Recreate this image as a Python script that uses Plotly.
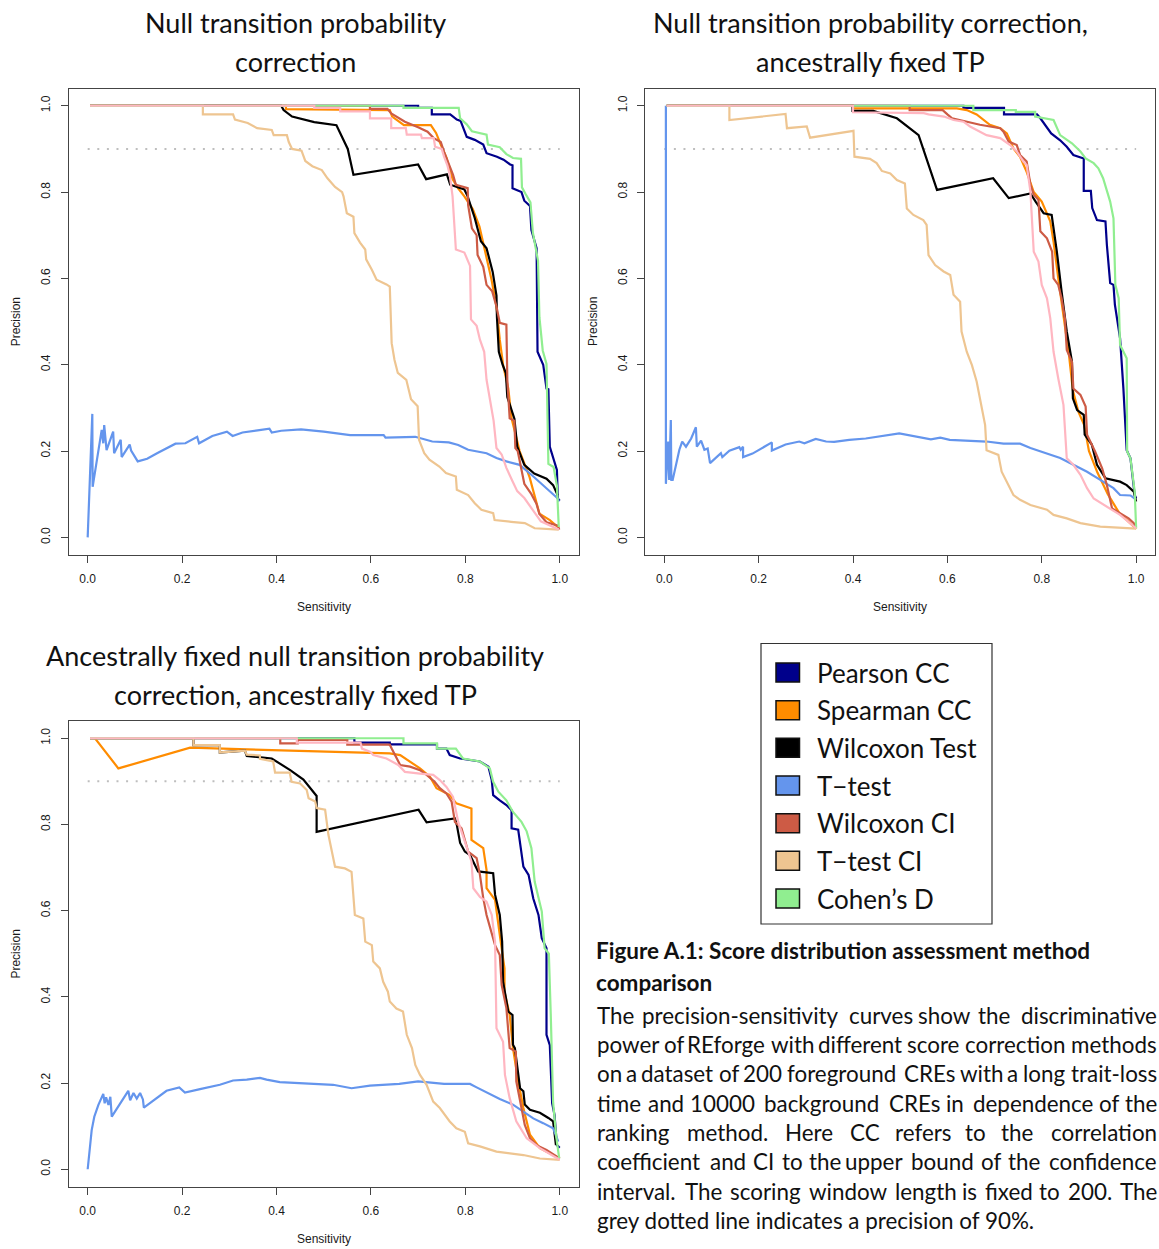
import plotly.graph_objects as go

# ---------------------------------------------------------------------------
# Shared axis values
# ---------------------------------------------------------------------------
tick_values = [0.0, 0.2, 0.4, 0.6, 0.8, 1.0]
tick_labels = ["0.0", "0.2", "0.4", "0.6", "0.8", "1.0"]
precision_level = [0.9, 0.9]
precision_level_sens = [0.0, 1.0]

method_names = ["Pearson CC", "Spearman CC", "Wilcoxon Test", "T\u2212test",
                "Wilcoxon CI", "T\u2212test CI", "Cohen\u2019s D"]

# ---------------------------------------------------------------------------
# Panel A: null transition probability correction
# ---------------------------------------------------------------------------
a_pearson_x = [0.005, 0.700, 0.700, 0.729, 0.729, 0.768, 0.782, 0.790, 0.803, 0.820, 0.838, 0.845, 0.867, 0.881, 0.895, 0.900, 0.900, 0.919, 0.925, 0.937, 0.940, 0.951, 0.953, 0.965, 0.972, 0.976, 0.979, 0.994, 0.996, 1.0]
a_pearson_y = [1.0, 1.0, 0.995, 0.995, 0.980, 0.980, 0.968, 0.965, 0.928, 0.921, 0.910, 0.890, 0.882, 0.875, 0.864, 0.862, 0.809, 0.800, 0.780, 0.768, 0.712, 0.670, 0.430, 0.400, 0.345, 0.343, 0.210, 0.156, 0.090, 0.085]

a_spearman_x = [0.005, 0.420, 0.420, 0.640, 0.645, 0.670, 0.727, 0.738, 0.750, 0.760, 0.773, 0.784, 0.798, 0.816, 0.830, 0.845, 0.855, 0.866, 0.873, 0.880, 0.891, 0.898, 0.915, 0.936, 0.957, 0.979, 0.998]
a_spearman_y = [1.0, 1.0, 0.992, 0.990, 0.975, 0.955, 0.955, 0.937, 0.905, 0.880, 0.830, 0.810, 0.790, 0.760, 0.720, 0.650, 0.600, 0.535, 0.458, 0.400, 0.345, 0.276, 0.200, 0.140, 0.055, 0.040, 0.022]

a_wilcox_x = [0.005, 0.410, 0.415, 0.433, 0.480, 0.527, 0.551, 0.563, 0.700, 0.717, 0.761, 0.768, 0.798, 0.805, 0.820, 0.833, 0.845, 0.858, 0.866, 0.867, 0.871, 0.879, 0.886, 0.889, 0.904, 0.910, 0.925, 0.946, 0.972, 0.986, 0.996]
a_wilcox_y = [1.0, 1.0, 0.990, 0.975, 0.962, 0.955, 0.900, 0.840, 0.864, 0.830, 0.841, 0.817, 0.806, 0.790, 0.740, 0.686, 0.670, 0.615, 0.560, 0.510, 0.430, 0.400, 0.380, 0.325, 0.275, 0.210, 0.168, 0.148, 0.136, 0.121, 0.097]

a_ttest_x = [0.0, 0.0098, 0.0105, 0.0191, 0.0297, 0.033, 0.035, 0.040, 0.054, 0.056, 0.070, 0.072, 0.089, 0.092, 0.106, 0.126, 0.147, 0.186, 0.207, 0.232, 0.236, 0.264, 0.295, 0.307, 0.328, 0.360, 0.385, 0.390, 0.410, 0.452, 0.500, 0.556, 0.627, 0.631, 0.694, 0.730, 0.765, 0.785, 0.806, 0.845, 0.866, 0.887, 0.915, 0.940, 0.960, 0.980, 0.996, 0.998]
a_ttest_y = [0.0, 0.286, 0.117, 0.179, 0.249, 0.218, 0.260, 0.202, 0.245, 0.195, 0.226, 0.186, 0.215, 0.201, 0.176, 0.182, 0.195, 0.217, 0.218, 0.233, 0.218, 0.235, 0.245, 0.235, 0.243, 0.248, 0.252, 0.243, 0.247, 0.250, 0.245, 0.237, 0.237, 0.231, 0.233, 0.222, 0.220, 0.214, 0.203, 0.195, 0.184, 0.176, 0.168, 0.145, 0.126, 0.106, 0.090, 0.083]

a_wilcox_ci_x = [0.005, 0.598, 0.598, 0.635, 0.643, 0.660, 0.672, 0.700, 0.720, 0.733, 0.748, 0.755, 0.767, 0.774, 0.780, 0.805, 0.806, 0.814, 0.824, 0.826, 0.838, 0.845, 0.857, 0.866, 0.873, 0.887, 0.889, 0.894, 0.904, 0.906, 0.911, 0.920, 0.925, 0.940, 0.951, 0.957, 0.972, 0.996, 0.999]
a_wilcox_ci_y = [1.0, 1.0, 0.993, 0.993, 0.982, 0.971, 0.963, 0.950, 0.940, 0.925, 0.916, 0.893, 0.862, 0.840, 0.817, 0.809, 0.770, 0.716, 0.700, 0.654, 0.627, 0.585, 0.570, 0.535, 0.497, 0.493, 0.365, 0.276, 0.270, 0.207, 0.200, 0.153, 0.124, 0.100, 0.077, 0.054, 0.035, 0.027, 0.018]

a_ttest_ci_x = [0.005, 0.244, 0.244, 0.308, 0.312, 0.339, 0.359, 0.390, 0.394, 0.422, 0.426, 0.433, 0.453, 0.461, 0.476, 0.496, 0.508, 0.524, 0.539, 0.542, 0.549, 0.563, 0.565, 0.577, 0.588, 0.590, 0.602, 0.612, 0.633, 0.640, 0.644, 0.650, 0.657, 0.675, 0.685, 0.699, 0.702, 0.713, 0.724, 0.745, 0.759, 0.780, 0.782, 0.806, 0.820, 0.834, 0.859, 0.862, 0.897, 0.926, 0.947, 0.998]
a_ttest_ci_y = [1.0, 1.0, 0.980, 0.980, 0.968, 0.960, 0.948, 0.944, 0.932, 0.932, 0.916, 0.900, 0.896, 0.872, 0.860, 0.851, 0.832, 0.812, 0.800, 0.790, 0.751, 0.743, 0.705, 0.683, 0.667, 0.644, 0.620, 0.597, 0.586, 0.581, 0.450, 0.411, 0.381, 0.365, 0.320, 0.304, 0.226, 0.195, 0.180, 0.164, 0.149, 0.141, 0.110, 0.098, 0.079, 0.064, 0.056, 0.040, 0.036, 0.033, 0.021, 0.018]

a_cohen_x = [0.005, 0.669, 0.669, 0.786, 0.789, 0.803, 0.814, 0.845, 0.848, 0.873, 0.887, 0.901, 0.918, 0.920, 0.928, 0.938, 0.943, 0.950, 0.954, 0.957, 0.964, 0.972, 0.976, 0.987, 0.994, 0.998]
a_cohen_y = [1.0, 1.0, 0.995, 0.995, 0.971, 0.957, 0.941, 0.933, 0.910, 0.904, 0.888, 0.879, 0.877, 0.811, 0.795, 0.776, 0.707, 0.664, 0.641, 0.510, 0.433, 0.402, 0.170, 0.163, 0.120, 0.024]

a_pink_x = [0.005, 0.480, 0.480, 0.535, 0.535, 0.598, 0.598, 0.643, 0.643, 0.674, 0.676, 0.706, 0.708, 0.733, 0.736, 0.750, 0.755, 0.762, 0.767, 0.773, 0.780, 0.798, 0.810, 0.812, 0.824, 0.831, 0.840, 0.845, 0.860, 0.866, 0.877, 0.887, 0.900, 0.910, 0.925, 0.946, 0.960, 0.998]
a_pink_y = [1.0, 1.0, 0.995, 0.995, 0.987, 0.987, 0.971, 0.971, 0.948, 0.948, 0.933, 0.933, 0.925, 0.925, 0.905, 0.900, 0.882, 0.862, 0.840, 0.790, 0.667, 0.660, 0.629, 0.505, 0.490, 0.458, 0.430, 0.365, 0.270, 0.207, 0.192, 0.161, 0.130, 0.107, 0.091, 0.060, 0.037, 0.018]

# ---------------------------------------------------------------------------
# Panel B: null transition probability correction, ancestrally fixed TP
# ---------------------------------------------------------------------------
b_pearson_x = [0.005, 0.634, 0.634, 0.720, 0.720, 0.790, 0.797, 0.807, 0.820, 0.839, 0.853, 0.867, 0.889, 0.889, 0.904, 0.907, 0.917, 0.935, 0.938, 0.945, 0.952, 0.955, 0.966, 0.973, 0.980, 0.988, 0.997, 1.0]
b_pearson_y = [1.0, 1.0, 0.995, 0.995, 0.980, 0.980, 0.971, 0.956, 0.936, 0.920, 0.905, 0.886, 0.878, 0.803, 0.803, 0.763, 0.735, 0.732, 0.678, 0.589, 0.585, 0.539, 0.461, 0.345, 0.202, 0.183, 0.098, 0.090]

b_spearman_x = [0.005, 0.400, 0.400, 0.620, 0.641, 0.662, 0.690, 0.712, 0.726, 0.740, 0.754, 0.768, 0.783, 0.800, 0.818, 0.825, 0.835, 0.842, 0.849, 0.858, 0.866, 0.878, 0.890, 0.900, 0.918, 0.940, 0.965, 0.990, 1.0]
b_spearman_y = [1.0, 1.0, 0.994, 0.994, 0.990, 0.980, 0.956, 0.948, 0.936, 0.901, 0.882, 0.847, 0.800, 0.778, 0.732, 0.685, 0.600, 0.546, 0.492, 0.420, 0.340, 0.290, 0.260, 0.200, 0.150, 0.100, 0.055, 0.030, 0.020]

b_wilcox_x = [0.005, 0.399, 0.399, 0.443, 0.493, 0.539, 0.578, 0.697, 0.730, 0.776, 0.787, 0.804, 0.821, 0.832, 0.842, 0.853, 0.864, 0.866, 0.875, 0.889, 0.891, 0.906, 0.917, 0.935, 0.966, 0.980, 0.995, 1.0]
b_wilcox_y = [1.0, 1.0, 0.988, 0.988, 0.971, 0.932, 0.805, 0.832, 0.786, 0.797, 0.778, 0.751, 0.747, 0.662, 0.570, 0.477, 0.407, 0.322, 0.295, 0.284, 0.238, 0.215, 0.168, 0.137, 0.129, 0.121, 0.106, 0.083]

b_ttest_x = [0.0034, 0.0034, 0.0083, 0.0104, 0.0139, 0.015, 0.0178, 0.025, 0.032, 0.038, 0.046, 0.057, 0.067, 0.069, 0.078, 0.085, 0.092, 0.097, 0.120, 0.123, 0.138, 0.159, 0.162, 0.167, 0.167, 0.187, 0.228, 0.228, 0.257, 0.286, 0.297, 0.321, 0.343, 0.360, 0.392, 0.427, 0.470, 0.498, 0.565, 0.585, 0.605, 0.663, 0.683, 0.719, 0.754, 0.776, 0.811, 0.839, 0.867, 0.896, 0.924, 0.952, 0.966, 0.988, 0.997]
b_ttest_y = [1.0, 0.124, 0.222, 0.133, 0.272, 0.133, 0.133, 0.172, 0.203, 0.222, 0.210, 0.229, 0.255, 0.210, 0.224, 0.203, 0.206, 0.172, 0.195, 0.186, 0.201, 0.209, 0.203, 0.210, 0.186, 0.194, 0.220, 0.201, 0.215, 0.222, 0.218, 0.228, 0.222, 0.221, 0.226, 0.229, 0.237, 0.241, 0.227, 0.231, 0.226, 0.224, 0.222, 0.217, 0.217, 0.207, 0.195, 0.184, 0.168, 0.152, 0.133, 0.114, 0.098, 0.097, 0.090]

b_wilcox_ci_x = [0.005, 0.520, 0.520, 0.590, 0.600, 0.610, 0.669, 0.712, 0.719, 0.730, 0.747, 0.754, 0.768, 0.776, 0.783, 0.793, 0.797, 0.811, 0.822, 0.825, 0.835, 0.842, 0.849, 0.853, 0.864, 0.867, 0.882, 0.893, 0.896, 0.906, 0.913, 0.928, 0.938, 0.949, 0.966, 0.984, 0.995, 1.0]
b_wilcox_ci_y = [1.0, 1.0, 0.990, 0.990, 0.980, 0.971, 0.956, 0.948, 0.940, 0.917, 0.909, 0.886, 0.871, 0.817, 0.794, 0.782, 0.709, 0.693, 0.662, 0.600, 0.585, 0.554, 0.508, 0.434, 0.407, 0.345, 0.330, 0.303, 0.238, 0.215, 0.199, 0.160, 0.121, 0.067, 0.056, 0.044, 0.033, 0.021]

b_ttest_ci_x = [0.005, 0.138, 0.138, 0.257, 0.260, 0.302, 0.309, 0.401, 0.403, 0.436, 0.450, 0.461, 0.479, 0.493, 0.510, 0.514, 0.528, 0.549, 0.556, 0.560, 0.574, 0.592, 0.606, 0.613, 0.627, 0.630, 0.641, 0.652, 0.662, 0.673, 0.680, 0.683, 0.708, 0.715, 0.726, 0.740, 0.754, 0.776, 0.811, 0.825, 0.853, 0.882, 0.924, 1.0]
b_ttest_ci_y = [1.0, 1.0, 0.967, 0.981, 0.948, 0.952, 0.926, 0.942, 0.882, 0.877, 0.867, 0.849, 0.843, 0.828, 0.820, 0.762, 0.747, 0.735, 0.724, 0.654, 0.631, 0.616, 0.608, 0.562, 0.546, 0.477, 0.430, 0.399, 0.361, 0.299, 0.260, 0.202, 0.191, 0.152, 0.129, 0.098, 0.087, 0.075, 0.064, 0.052, 0.044, 0.033, 0.025, 0.020]

b_cohen_x = [0.005, 0.655, 0.655, 0.745, 0.745, 0.786, 0.786, 0.825, 0.839, 0.864, 0.882, 0.893, 0.910, 0.920, 0.930, 0.945, 0.952, 0.956, 0.963, 0.966, 0.980, 0.981, 0.988, 0.997, 1.0]
b_cohen_y = [1.0, 1.0, 0.990, 0.990, 0.986, 0.986, 0.975, 0.967, 0.932, 0.913, 0.894, 0.878, 0.867, 0.855, 0.832, 0.778, 0.739, 0.585, 0.554, 0.446, 0.415, 0.199, 0.183, 0.106, 0.021]

b_pink_x = [0.005, 0.400, 0.400, 0.550, 0.560, 0.593, 0.613, 0.634, 0.648, 0.683, 0.712, 0.733, 0.747, 0.761, 0.768, 0.776, 0.783, 0.793, 0.800, 0.811, 0.818, 0.825, 0.835, 0.846, 0.853, 0.867, 0.882, 0.896, 0.910, 0.931, 0.966, 1.0]
b_pink_y = [1.0, 1.0, 0.985, 0.983, 0.980, 0.975, 0.967, 0.963, 0.952, 0.932, 0.925, 0.909, 0.894, 0.871, 0.863, 0.801, 0.662, 0.639, 0.585, 0.554, 0.508, 0.430, 0.368, 0.307, 0.183, 0.168, 0.145, 0.114, 0.090, 0.075, 0.052, 0.021]

# ---------------------------------------------------------------------------
# Panel C: ancestrally fixed null TP correction, ancestrally fixed TP
# ---------------------------------------------------------------------------
c_pearson_x = [0.005, 0.565, 0.565, 0.640, 0.640, 0.740, 0.740, 0.760, 0.767, 0.789, 0.831, 0.849, 0.856, 0.859, 0.873, 0.887, 0.898, 0.898, 0.912, 0.916, 0.923, 0.934, 0.944, 0.955, 0.962, 0.972, 0.972, 0.979, 0.984, 0.989, 0.994, 1.0]
c_pearson_y = [1.0, 1.0, 0.990, 0.990, 0.986, 0.986, 0.976, 0.976, 0.961, 0.953, 0.946, 0.934, 0.903, 0.868, 0.856, 0.845, 0.833, 0.791, 0.788, 0.760, 0.702, 0.683, 0.628, 0.590, 0.536, 0.513, 0.312, 0.288, 0.153, 0.126, 0.056, 0.050]

c_spearman_x = [0.005, 0.0155, 0.065, 0.217, 0.563, 0.640, 0.662, 0.683, 0.704, 0.725, 0.739, 0.767, 0.781, 0.813, 0.813, 0.838, 0.845, 0.845, 0.863, 0.873, 0.883, 0.883, 0.894, 0.901, 0.912, 0.923, 0.937, 0.958, 1.0]
c_spearman_y = [1.0, 1.0, 0.930, 0.978, 0.967, 0.965, 0.961, 0.946, 0.930, 0.911, 0.884, 0.868, 0.849, 0.837, 0.764, 0.745, 0.694, 0.652, 0.625, 0.544, 0.466, 0.412, 0.358, 0.281, 0.204, 0.142, 0.080, 0.049, 0.025]

c_wilcox_x = [0.005, 0.224, 0.224, 0.280, 0.280, 0.333, 0.337, 0.358, 0.390, 0.429, 0.457, 0.485, 0.485, 0.701, 0.718, 0.778, 0.782, 0.789, 0.799, 0.810, 0.827, 0.859, 0.863, 0.873, 0.878, 0.880, 0.891, 0.900, 0.901, 0.905, 0.916, 0.923, 0.926, 0.937, 0.958, 0.976, 0.986, 0.992]
c_wilcox_y = [1.0, 1.0, 0.984, 0.984, 0.967, 0.971, 0.959, 0.957, 0.953, 0.926, 0.904, 0.866, 0.783, 0.834, 0.805, 0.814, 0.799, 0.757, 0.737, 0.729, 0.691, 0.687, 0.637, 0.590, 0.528, 0.435, 0.366, 0.358, 0.289, 0.281, 0.188, 0.181, 0.150, 0.138, 0.131, 0.119, 0.111, 0.056]

c_ttest_x = [0.0, 0.0085, 0.014, 0.0225, 0.033, 0.036, 0.039, 0.044, 0.048, 0.051, 0.086, 0.090, 0.097, 0.104, 0.111, 0.117, 0.119, 0.153, 0.167, 0.194, 0.206, 0.238, 0.280, 0.308, 0.337, 0.365, 0.379, 0.407, 0.450, 0.520, 0.559, 0.598, 0.660, 0.700, 0.755, 0.810, 0.824, 0.845, 0.873, 0.901, 0.923, 0.944, 0.965, 0.986, 0.997]
c_ttest_y = [0.0, 0.091, 0.122, 0.149, 0.175, 0.153, 0.167, 0.149, 0.168, 0.122, 0.182, 0.160, 0.177, 0.164, 0.177, 0.162, 0.143, 0.172, 0.182, 0.190, 0.178, 0.186, 0.196, 0.206, 0.208, 0.212, 0.208, 0.202, 0.200, 0.196, 0.188, 0.194, 0.198, 0.204, 0.198, 0.198, 0.190, 0.178, 0.163, 0.150, 0.134, 0.118, 0.107, 0.095, 0.064]

c_wilcox_ci_x = [0.005, 0.408, 0.408, 0.445, 0.445, 0.550, 0.550, 0.640, 0.644, 0.654, 0.662, 0.683, 0.704, 0.718, 0.735, 0.746, 0.760, 0.771, 0.778, 0.792, 0.806, 0.824, 0.831, 0.838, 0.845, 0.863, 0.873, 0.877, 0.887, 0.894, 0.907, 0.908, 0.916, 0.926, 0.937, 0.951, 0.972, 1.0]
c_wilcox_ci_y = [1.0, 1.0, 0.988, 0.988, 0.996, 0.996, 0.985, 0.985, 0.976, 0.953, 0.938, 0.934, 0.926, 0.915, 0.899, 0.884, 0.872, 0.853, 0.806, 0.791, 0.737, 0.722, 0.683, 0.629, 0.590, 0.520, 0.497, 0.428, 0.374, 0.281, 0.273, 0.204, 0.157, 0.103, 0.072, 0.056, 0.045, 0.025]

c_ttest_ci_x = [0.005, 0.224, 0.224, 0.280, 0.280, 0.333, 0.337, 0.365, 0.365, 0.393, 0.397, 0.428, 0.432, 0.450, 0.464, 0.468, 0.482, 0.485, 0.503, 0.506, 0.510, 0.524, 0.545, 0.559, 0.562, 0.566, 0.584, 0.588, 0.602, 0.605, 0.619, 0.626, 0.636, 0.640, 0.654, 0.668, 0.676, 0.687, 0.694, 0.704, 0.718, 0.732, 0.746, 0.767, 0.781, 0.799, 0.806, 0.831, 0.866, 0.923, 0.958, 1.0]
c_ttest_ci_y = [1.0, 1.0, 0.984, 0.984, 0.967, 0.971, 0.962, 0.960, 0.952, 0.946, 0.920, 0.920, 0.899, 0.895, 0.880, 0.861, 0.853, 0.838, 0.834, 0.803, 0.776, 0.702, 0.698, 0.690, 0.640, 0.590, 0.582, 0.528, 0.520, 0.482, 0.466, 0.435, 0.412, 0.389, 0.373, 0.366, 0.312, 0.281, 0.242, 0.219, 0.196, 0.157, 0.142, 0.111, 0.095, 0.087, 0.060, 0.053, 0.041, 0.033, 0.025, 0.022]

c_cohen_x = [0.005, 0.669, 0.669, 0.740, 0.740, 0.780, 0.795, 0.831, 0.852, 0.859, 0.870, 0.887, 0.901, 0.919, 0.930, 0.940, 0.947, 0.955, 0.962, 0.968, 0.977, 0.981, 0.986, 0.993, 0.999]
c_cohen_y = [1.0, 1.0, 0.988, 0.988, 0.976, 0.976, 0.953, 0.946, 0.930, 0.899, 0.876, 0.856, 0.829, 0.806, 0.784, 0.745, 0.667, 0.628, 0.598, 0.513, 0.500, 0.360, 0.155, 0.072, 0.025]

c_pink_x = [0.005, 0.443, 0.443, 0.578, 0.581, 0.598, 0.605, 0.633, 0.658, 0.672, 0.704, 0.732, 0.746, 0.760, 0.774, 0.785, 0.799, 0.813, 0.817, 0.831, 0.845, 0.856, 0.863, 0.866, 0.880, 0.884, 0.894, 0.908, 0.930, 0.958, 1.0]
c_pink_y = [1.0, 1.0, 0.990, 0.990, 0.976, 0.969, 0.961, 0.953, 0.938, 0.922, 0.918, 0.915, 0.903, 0.887, 0.864, 0.806, 0.760, 0.714, 0.652, 0.632, 0.621, 0.590, 0.528, 0.327, 0.296, 0.219, 0.165, 0.111, 0.072, 0.049, 0.022]

# ---------------------------------------------------------------------------
# Styling
# ---------------------------------------------------------------------------
W, H = 1159, 1249
C_PEARSON = "#00008B"
C_SPEARMAN = "#FF8C00"
C_WILCOX = "#000000"
C_TTEST = "#6495ED"
C_WILCOX_CI = "#CD5B45"
C_TTEST_CI = "#EEC591"
C_COHEN = "#90EE90"
C_PINK = "#FFB6C1"
legend_colors = [C_PEARSON, C_SPEARMAN, C_WILCOX, C_TTEST, C_WILCOX_CI, C_TTEST_CI, C_COHEN]

TEXT_FONT = "Lato"
AXIS_FONT = "Liberation Sans, Arial, sans-serif"


def px(x):
    return x / W


def py(y):
    return 1 - y / H


panels = [
    dict(xa="x", ya="y", box=(68.8, 88.5, 578.6, 554.6),
         series=[(method_names[0], C_PEARSON, a_pearson_x, a_pearson_y),
                 (method_names[1], C_SPEARMAN, a_spearman_x, a_spearman_y),
                 (method_names[2], C_WILCOX, a_wilcox_x, a_wilcox_y),
                 (method_names[3], C_TTEST, a_ttest_x, a_ttest_y),
                 (method_names[4], C_WILCOX_CI, a_wilcox_ci_x, a_wilcox_ci_y),
                 (method_names[5], C_TTEST_CI, a_ttest_ci_x, a_ttest_ci_y),
                 (method_names[6], C_COHEN, a_cohen_x, a_cohen_y),
                 ("Unlabelled curve", C_PINK, a_pink_x, a_pink_y)],
         title=["Null transition probability", "correction"], title_x=295, title_y=(23, 62)),
    dict(xa="x2", ya="y2", box=(645.4, 88.5, 1155.0, 554.6),
         series=[(method_names[0], C_PEARSON, b_pearson_x, b_pearson_y),
                 (method_names[1], C_SPEARMAN, b_spearman_x, b_spearman_y),
                 (method_names[2], C_WILCOX, b_wilcox_x, b_wilcox_y),
                 (method_names[3], C_TTEST, b_ttest_x, b_ttest_y),
                 (method_names[4], C_WILCOX_CI, b_wilcox_ci_x, b_wilcox_ci_y),
                 (method_names[5], C_TTEST_CI, b_ttest_ci_x, b_ttest_ci_y),
                 (method_names[6], C_COHEN, b_cohen_x, b_cohen_y),
                 ("Unlabelled curve", C_PINK, b_pink_x, b_pink_y)],
         title=["Null transition probability correction,", "ancestrally fixed TP"], title_x=870, title_y=(23, 62)),
    dict(xa="x3", ya="y3", box=(68.8, 721.0, 578.6, 1186.5),
         series=[(method_names[0], C_PEARSON, c_pearson_x, c_pearson_y),
                 (method_names[1], C_SPEARMAN, c_spearman_x, c_spearman_y),
                 (method_names[2], C_WILCOX, c_wilcox_x, c_wilcox_y),
                 (method_names[3], C_TTEST, c_ttest_x, c_ttest_y),
                 (method_names[4], C_WILCOX_CI, c_wilcox_ci_x, c_wilcox_ci_y),
                 (method_names[5], C_TTEST_CI, c_ttest_ci_x, c_ttest_ci_y),
                 (method_names[6], C_COHEN, c_cohen_x, c_cohen_y),
                 ("Unlabelled curve", C_PINK, c_pink_x, c_pink_y)],
         title=["Ancestrally fixed null transition probability", "correction, ancestrally fixed TP"],
         title_x=295, title_y=(655, 694)),
]

fig = go.Figure()
annotations = []
shapes = []
layout_axes = {}

for i, p in enumerate(panels):
    # grey dotted reference line at 90% precision
    fig.add_trace(go.Scatter(x=precision_level_sens, y=precision_level, mode="lines",
                             line=dict(color="#BEBEBE", width=2, dash="2px,7.6px"),
                             xaxis=p["xa"], yaxis=p["ya"], showlegend=False, hoverinfo="skip"))
    for name, color, xs, ys in p["series"]:
        fig.add_trace(go.Scatter(x=xs, y=ys, mode="lines", name=name,
                                 line=dict(color=color, width=2.2),
                                 xaxis=p["xa"], yaxis=p["ya"], showlegend=False))

    x0, y0, x1, y1 = p["box"]
    suffix = "" if i == 0 else str(i + 1)
    common = dict(showgrid=False, zeroline=False, showline=True, mirror=True,
                  linecolor="#444", linewidth=1.2, ticks="outside", ticklen=7,
                  tickwidth=1, tickcolor="#444", tickvals=tick_values, ticktext=tick_labels,
                  tickfont=dict(family=AXIS_FONT, size=12, color="#1a1a1a"),
                  range=[-0.04, 1.04], fixedrange=True)
    layout_axes["xaxis" + suffix] = dict(common, domain=[px(x0), px(x1)],
                                         anchor="y" + suffix, ticklabelstandoff=6)
    layout_axes["yaxis" + suffix] = dict(common, domain=[py(y1), py(y0)],
                                         anchor="x" + suffix, tickangle=-90, ticklabelstandoff=6)

    # panel title
    for line, ty in zip(p["title"], p["title_y"]):
        annotations.append(dict(text=line, x=px(p["title_x"]), y=py(ty), xref="paper", yref="paper",
                                xanchor="center", yanchor="middle", showarrow=False,
                                font=dict(family=TEXT_FONT, size=27, color="#111")))
    # axis titles
    annotations.append(dict(text="Precision", x=px(x0 - 53), y=py((y0 + y1) / 2), xref="paper",
                            yref="paper", textangle=-90, showarrow=False, xanchor="center",
                            yanchor="middle", font=dict(family=AXIS_FONT, size=12, color="#1a1a1a")))
    annotations.append(dict(text="Sensitivity", x=px((x0 + x1) / 2), y=py(y1 + 52.5), xref="paper",
                            yref="paper", showarrow=False, xanchor="center", yanchor="middle",
                            font=dict(family=AXIS_FONT, size=12, color="#1a1a1a")))

# ---------------------------------------------------------------------------
# Legend box
# ---------------------------------------------------------------------------
shapes.append(dict(type="rect", xref="paper", yref="paper", x0=px(761), x1=px(992),
                   y0=py(924), y1=py(643.5), line=dict(color="#333", width=1.2),
                   fillcolor="rgba(0,0,0,0)"))
for k, (label, color) in enumerate(zip(method_names, legend_colors)):
    cy = 672.5 + k * 37.67
    shapes.append(dict(type="rect", xref="paper", yref="paper", x0=px(776), x1=px(799.5),
                       y0=py(cy + 9.5), y1=py(cy - 9.5), fillcolor=color,
                       line=dict(color="#111", width=1.5)))
    annotations.append(dict(text=label, x=px(815), y=py(cy), xref="paper", yref="paper",
                            xanchor="left", yanchor="middle", showarrow=False,
                            font=dict(family=TEXT_FONT, size=26, color="#111")))

# ---------------------------------------------------------------------------
# Caption
# ---------------------------------------------------------------------------
caption_title = ["Figure A.1: Score distribution assessment method", "comparison"]
caption_body = [
    "The precision-sensitivity curves show the discriminative",
    "power of REforge with different score correction methods",
    "on a dataset of 200 foreground CREs with a long trait-loss",
    "time and 10000 background CREs in dependence of the",
    "ranking method. Here CC refers to the correlation",
    "coefficient and CI to the upper bound of the confidence",
    "interval. The scoring window length is fixed to 200. The",
    "grey dotted line indicates a precision of 90%.",
]

for line, ty in zip(caption_title, (950.7, 982.5)):
    annotations.append(dict(text="<b>" + line + "</b>", x=px(594), y=py(ty), xref="paper",
                            yref="paper", xanchor="left", yanchor="middle", showarrow=False,
                            font=dict(family=TEXT_FONT, size=22.5, color="#111")))

# approximate advance widths (em) used to spread words for a justified block
GLYPH_EM = {
    "a": .49, "b": .55, "c": .46, "d": .55, "e": .51, "f": .32, "g": .50, "h": .55,
    "i": .24, "j": .24, "k": .50, "l": .24, "m": .83, "n": .55, "o": .55, "p": .54,
    "q": .55, "r": .36, "s": .42, "t": .34, "u": .55, "v": .50, "w": .76, "x": .49,
    "y": .50, "z": .45, "A": .68, "B": .65, "C": .68, "D": .75, "E": .58, "F": .56,
    "G": .73, "H": .76, "I": .29, "L": .50, "R": .64, "S": .55, "T": .60,
    ".": .22, ",": .22, "-": .35, "%": .80, ":": .22,
}
GLYPH_SCALE = 1.06
BODY_SIZE = 22.4


def word_width(word):
    return sum(GLYPH_EM.get(ch, .58) for ch in word) * BODY_SIZE * GLYPH_SCALE


left_edge, right_edge = 595.0, 1159.0
for li, line in enumerate(caption_body):
    ty = 1015 + li * 29.36
    font = dict(family=TEXT_FONT, size=BODY_SIZE, color="#111")
    if li == len(caption_body) - 1:
        annotations.append(dict(text=line, x=px(left_edge), y=py(ty), xref="paper", yref="paper",
                                xanchor="left", yanchor="middle", showarrow=False, font=font))
        continue
    words = line.split(" ")
    widths = [word_width(w) for w in words]
    n = len(words)
    gap = (right_edge - left_edge - sum(widths)) / (n - 1)
    for wi, w in enumerate(words):
        if wi < n / 2:
            x_left = left_edge + sum(widths[:wi]) + gap * wi
            annotations.append(dict(text=w, x=px(x_left), y=py(ty), xref="paper", yref="paper",
                                    xanchor="left", yanchor="middle", showarrow=False, font=font))
        else:
            x_right = right_edge - sum(widths[wi + 1:]) - gap * (n - 1 - wi)
            annotations.append(dict(text=w, x=px(x_right), y=py(ty), xref="paper", yref="paper",
                                    xanchor="right", yanchor="middle", showarrow=False, font=font))

fig.update_layout(
    width=W, height=H, autosize=False,
    margin=dict(l=0, r=0, t=0, b=0),
    paper_bgcolor="white", plot_bgcolor="white",
    showlegend=False,
    annotations=annotations, shapes=shapes,
    **layout_axes,
)

fig.write_html("out.html", config=dict(displayModeBar=False))
